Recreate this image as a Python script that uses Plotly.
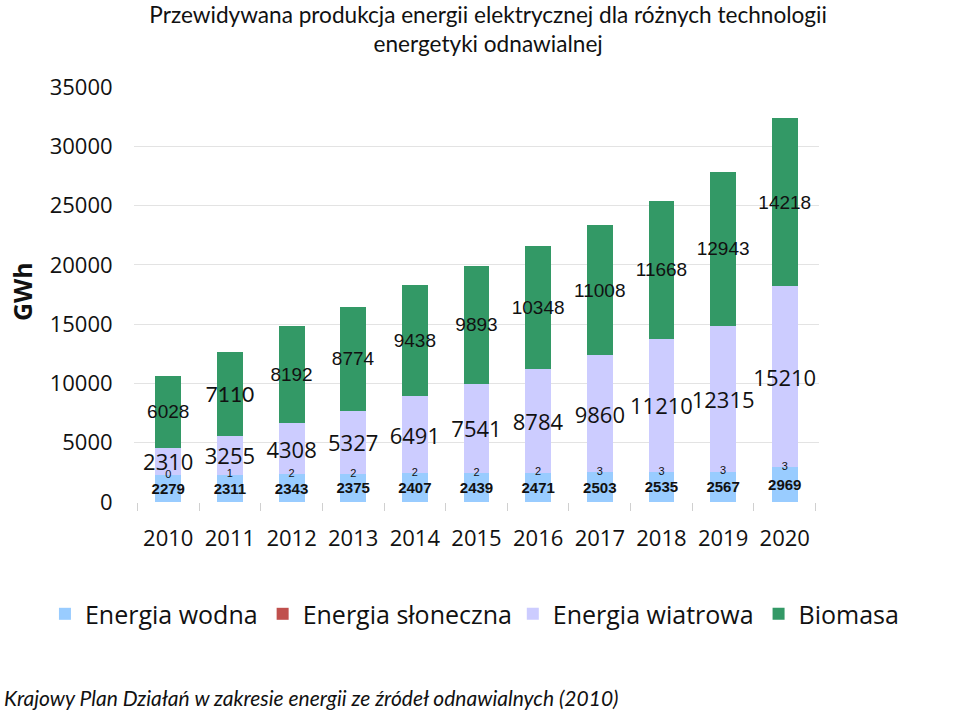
import plotly.graph_objects as go

years = ["2010", "2011", "2012", "2013", "2014", "2015", "2016", "2017", "2018", "2019", "2020"]
wodna = [2279, 2311, 2343, 2375, 2407, 2439, 2471, 2503, 2535, 2567, 2969]
sloneczna = [0, 1, 2, 2, 2, 2, 2, 3, 3, 3, 3]
wiatrowa = [2310, 3255, 4308, 5327, 6491, 7541, 8784, 9860, 11210, 12315, 15210]
biomasa = [6028, 7110, 8192, 8774, 9438, 9893, 10348, 11008, 11668, 12943, 14218]

names = ["Energia wodna", "Energia słoneczna", "Energia wiatrowa", "Biomasa"]
colors = ["#99CCFF", "#C0504D", "#CCCCFF", "#339966"]

common = dict(textposition="inside", insidetextanchor="middle", constraintext="none",
              textangle=0, cliponaxis=False, hoverinfo="skip")

fig = go.Figure()
fig.add_trace(go.Bar(x=years, y=wodna, name=names[0], legend="legend",
                     marker=dict(color=colors[0], line=dict(width=0)),
                     text=[str(v) for v in wodna],
                     insidetextfont=dict(family="Liberation Sans", size=15, color="#111111", weight="bold"),
                     **common))
fig.add_trace(go.Bar(x=years, y=sloneczna, name=names[1], legend="legend", zorder=-1,
                     marker=dict(color=colors[1], opacity=0.99, line=dict(width=0)),
                     textposition="none", hoverinfo="skip"))
fig.add_trace(go.Bar(x=years, y=wiatrowa, name=names[2], legend="legend2",
                     marker=dict(color=colors[2], line=dict(width=0)),
                     text=[str(v) for v in wiatrowa],
                     insidetextfont=dict(family="Open Sans", size=22, color="#111111"),
                     **common))
bio_fam = ["Liberation Sans"] * len(biomasa)
bio_size = [19] * len(biomasa)
bio_fam[1] = "Lato"
bio_size[1] = 21
fig.add_trace(go.Bar(x=years, y=biomasa, name=names[3], legend="legend2",
                     marker=dict(color=colors[3], line=dict(width=0)),
                     text=[str(v) for v in biomasa],
                     insidetextfont=dict(family=bio_fam, size=bio_size, color="#111111"),
                     **common))
# solar value labels at the top of the hydro segment
fig.add_trace(go.Scatter(x=years, y=[w + s for w, s in zip(wodna, sloneczna)], mode="text",
                         text=[str(v) for v in sloneczna], textposition="middle center",
                         textfont=dict(family="Liberation Sans", size=11, color="#111111"),
                         showlegend=False, hoverinfo="skip", cliponaxis=False))

legend_font = dict(family="Open Sans", size=25, color="#111111")
fig.update_layout(
    width=960, height=718,
    barmode="stack", bargap=0.58,
    margin=dict(l=134, r=141, t=87, b=216, autoexpand=False),
    paper_bgcolor="white", plot_bgcolor="white",
    hovermode=False,
    title=dict(text="Przewidywana produkcja energii elektrycznej dla różnych technologii<br>energetyki odnawialnej",
               x=0.517, xanchor="center", xref="paper", y=0.968, yref="container", yanchor="middle",
               font=dict(family="Lato", size=22.6, color="#111111")),
    legend=dict(orientation="h", x=-0.130, xanchor="left", y=-0.27, yanchor="middle",
                font=legend_font, traceorder="normal", bgcolor="rgba(0,0,0,0)"),
    legend2=dict(orientation="h", x=0.553, xanchor="left", y=-0.27, yanchor="middle",
                 font=legend_font, traceorder="normal", bgcolor="rgba(0,0,0,0)"),
    showlegend=True,
)
fig.update_yaxes(range=[0, 35000], dtick=5000, tickformat="d", showgrid=True, gridcolor="#e3e3e3",
                 showline=True, linecolor="#cccccc", mirror=True, zeroline=False,
                 tickfont=dict(family="Open Sans", size=22, color="#111111"), ticklabelstandoff=16)
fig.update_xaxes(type="category", showline=True, linecolor="#cccccc", mirror=True,
                 ticks="outside", tickson="boundaries", ticklen=8, tickcolor="#d0d0d0",
                 tickfont=dict(family="Open Sans", size=22, color="#111111"), ticklabelstandoff=17)

fig.add_annotation(text="<b>GWh</b>", textangle=-90, xref="paper", yref="paper",
                   x=-0.1635, y=0.506, xanchor="center", yanchor="middle", showarrow=False,
                   font=dict(family="Open Sans", size=25, color="#111111"))
fig.add_annotation(text="<i>Krajowy Plan Działań w zakresie energii ze źródeł odnawialnych (2010)</i>",
                   xref="paper", yref="paper", x=-0.1926, y=-0.472, xanchor="left", yanchor="middle",
                   showarrow=False, font=dict(family="Lato", size=21, color="#111111"))

fig.write_html("out.html", config={"displayModeBar": False},
               post_script="document.body.style.margin='0px';")
